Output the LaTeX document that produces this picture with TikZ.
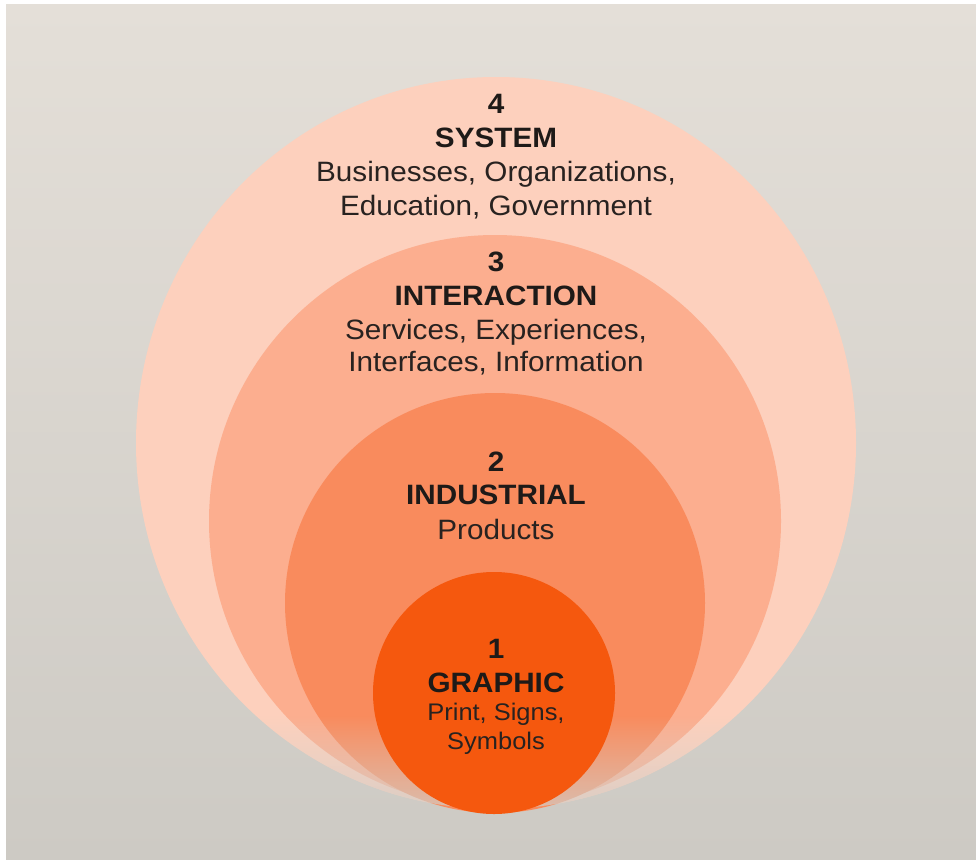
\documentclass[tikz,border=0pt]{standalone}
\usepackage{fontspec}
\setmainfont{Liberation Sans}[FakeStretch=1.06]
\usetikzlibrary{fadings}
\definecolor{bgtop}{RGB}{228,223,216}
\definecolor{bgmid}{RGB}{232,228,222}
\definecolor{bgbot}{RGB}{205,202,196}
\definecolor{bgfa}{RGB}{213,210,204}
\definecolor{bgfb}{RGB}{208,205,199}
\definecolor{cfour}{RGB}{253,208,189}
\definecolor{cthree}{RGB}{252,174,143}
\definecolor{ctwo}{RGB}{249,139,93}
\definecolor{cone}{RGB}{245,88,14}
\definecolor{inkb}{RGB}{30,26,24}
\definecolor{inkr}{RGB}{40,34,32}
\tikzfading[name=fadeup, top color=transparent!100, bottom color=transparent!20]
\begin{document}
\begin{tikzpicture}[x=1pt,y=-1pt,
  lbl/.style={anchor=base, text=inkr, inner sep=0pt, font=\fontsize{28}{34}\selectfont},
  hd/.style={anchor=base, text=inkb, inner sep=0pt, font=\bfseries\fontsize{28}{34}\selectfont},
  lbls/.style={anchor=base, text=inkr, inner sep=0pt, font=\fontsize{24}{30}\selectfont}]
\useasboundingbox (0,0) rectangle (976,859);
\fill[white] (0,0) rectangle (976,859);
\shade[top color=bgtop, middle color=bgmid, bottom color=bgbot] (6,5) rectangle (976,859);
% circles
\fill[cfour] (496,443) ellipse [x radius=360pt, y radius=366pt];
\fill[cthree] (495,521) circle [radius=286pt];
\fill[ctwo] (495,603) circle [radius=210pt];
\begin{scope}
  \clip (496,443) ellipse [x radius=360pt, y radius=366pt];
  \shade[top color=bgfa, bottom color=bgfb, path fading=fadeup] (120,715) rectangle (870,816);
\end{scope}
\fill[cone] (494,693) circle [radius=121pt];
% texts
\node[hd] (n4) at (496,113) {4};
\node[hd] (t4) at (496,147) {SYSTEM};
\node[lbl] (a4) at (496,181) {Businesses, Organizations,};
\node[lbl] (b4) at (496,215) {Education, Government};
\node[hd] (n3) at (496,271) {3};
\node[hd] (t3) at (496,305) {INTERACTION};
\node[lbl] (a3) at (496,339) {Services, Experiences,};
\node[lbl] (b3) at (496,371) {Interfaces, Information};
\node[hd] (n2) at (496,471) {2};
\node[hd] (t2) at (496,504) {INDUSTRIAL};
\node[lbl] (a2) at (496,539) {Products};
\node[hd] (n1) at (496,658) {1};
\node[hd] (t1) at (496,692) {GRAPHIC};
\node[lbls] (a1) at (496,720) {Print, Signs,};
\node[lbls] (b1) at (496,749) {Symbols};
\end{tikzpicture}
\end{document}
